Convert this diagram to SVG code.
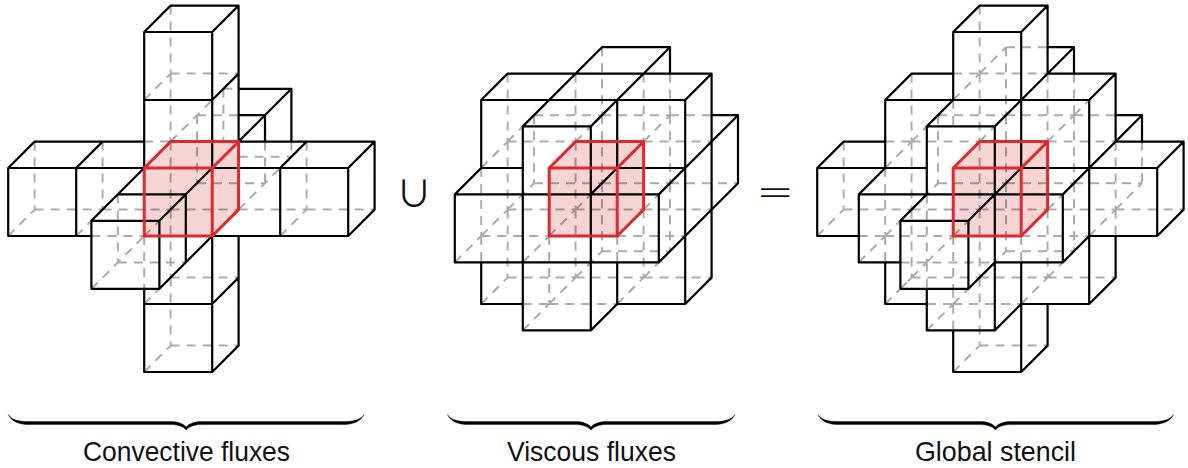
<svg xmlns="http://www.w3.org/2000/svg" width="1188" height="468" viewBox="0 0 1188 468">
<style>
.d{fill:none;stroke:#000;stroke-opacity:.33;stroke-width:2;stroke-dasharray:9 7}
.s{fill:none;stroke:#000;stroke-width:2.2;stroke-linecap:round;stroke-linejoin:round}
.rf{fill:#d62728;fill-opacity:.2;stroke:none}
.rs{fill:none;stroke:#dc2a2e;stroke-width:3;stroke-linejoin:round;stroke-linecap:round}
.b{fill:#000;stroke:#000;stroke-width:.4;stroke-linejoin:round}
.t{font-family:"Liberation Sans",Arial,sans-serif;font-size:27.5px;fill:#111;text-anchor:middle}
.o{fill:#111;text-anchor:middle}
</style>
<defs>
<path id="rfill" class="rf" d="M0-68L26.4-94.4H94.4V-26.4L68 0H0Z"/>
<path id="rline" class="rs" d="M0-68H68V0H0ZM0-68L26.4-94.4H94.4L68-68M94.4-94.4V-26.4L68 0"/>
</defs>
<g id="convective-stencil" transform="translate(144.2 236)">
<use href="#rfill"/>
<path class="d" d="M-109.6-26.4H-41.6M-41.6-26.4H26.4M26.4-26.4H94.4M94.4-26.4H162.4M162.4-26.4H230.4M26.4-162.4H94.4M26.4 41.6H94.4M26.4 109.6H94.4M0-94.4H26.4M-52.8 0H0M-26.4 26.4H41.6M52.8-120.8H94.4M79.2-147.2H94.4M52.8-52.8H120.8M94.4-79.2H147.2M26.4-230.4V-162.4M26.4-162.4V-94.4M26.4-94.4V-26.4M26.4-26.4V41.6M26.4 41.6V109.6M-109.6-94.4V-26.4M-41.6-94.4V-26.4M162.4-94.4V-26.4M-26.4-41.6V26.4M0 0V52.8M52.8-120.8V-52.8M120.8-94.4V-52.8M79.2-147.2V-94.4M147.2-94.4V-79.2M0-136L26.4-162.4M0 68L26.4 41.6M0 136L26.4 109.6M-136 0L-109.6-26.4M-68 0L-41.6-26.4M136 0L162.4-26.4M-52.8 52.8L0 0M0 0L26.4-26.4M26.4-94.4L79.2-147.2M94.4-26.4L147.2-79.2"/>
<path class="s" d="M0-204H68V-136H0ZM0-136V-68M68-136V-68M0-204L26.4-230.4H94.4L68-204M94.4-230.4V-94.4M68-136L94.4-162.4M-136-68H0M-136-68V0H-52.8M-68-68V0M-136-68L-109.6-94.4H0M-68-68L-41.6-94.4M68-68H204V0H68M136-68V0M136-68L162.4-94.4M204-68L230.4-94.4V-26.4L204 0M94.4-94.4H230.4M94.4-94.4L147.2-147.2H94.4M94.4-120.8H120.8V-94.4M147.2-147.2V-94.4M-52.8-15.2H15.2V52.8H-52.8ZM-52.8-15.2L0-68M15.2-15.2L68-68M15.2 52.8L68 0M-26.4-41.6H41.6V26.4M0 52.8V136H68V0M0 68H68M68 68L94.4 41.6M68 136L94.4 109.6V0"/>
<use href="#rline"/>
</g>
<g id="viscous-stencil" transform="translate(549.2 236)">
<use href="#rfill"/>
<path class="d" d="M-41.6-94.4H26.4M94.4-94.4H162.4M-15.2-120.8H52.8M52.8-120.8H120.8M120.8-120.8H162.4M-68 0H0M68 0H136M-41.6-26.4H26.4M26.4-26.4H94.4M94.4-26.4H162.4M-15.2-52.8H52.8M52.8-52.8H120.8M120.8-52.8H188.8M-26.4 68H0M0 68H68M-41.6 41.6H26.4M26.4 41.6H94.4M94.4 41.6H162.4M52.8 15.2H120.8M-68-68V0M-68 0V26.4M-41.6-162.4V-94.4M-41.6-94.4V-26.4M-41.6-26.4V41.6M-15.2-120.8V-52.8M0 0V68M26.4-162.4V-94.4M26.4-94.4V-26.4M26.4-26.4V41.6M52.8-188.8V-120.8M52.8-120.8V-52.8M52.8-52.8V15.2M68 0V26.4M94.4-162.4V-94.4M94.4-26.4V41.6M120.8-162.4V-120.8M120.8-120.8V-52.8M120.8-52.8V15.2M-68-68L-41.6-94.4M-41.6-94.4L-15.2-120.8M-94.4 26.4L-68 0M-68 0L-41.6-26.4M-41.6-26.4L-15.2-52.8M-68 68L-41.6 41.6M-26.4 26.4L0 0M0 0L26.4-26.4M26.4-26.4L52.8-52.8M26.4-94.4L52.8-120.8M-26.4 94.4L0 68M0 68L26.4 41.6M26.4 41.6L52.8 15.2M94.4-94.4L120.8-120.8M94.4-26.4L120.8-52.8M68 68L94.4 41.6M94.4 41.6L120.8 15.2"/>
<path class="s" d="M-68-136H136M-41.6-162.4H162.4M52.8-188.8H120.8M-26.4-109.6H41.6M-94.4-41.6H109.6M-68-68H-26.4M68-68H136M162.4-120.8H188.8M-94.4 26.4H109.6M-26.4 94.4H41.6M-68 68H-26.4M68 68H136M-94.4-41.6V26.4M-68-136V-68M-68 26.4V68M-26.4-109.6V94.4M41.6-109.6V94.4M68-136V-68M68 26.4V68M120.8-188.8V-162.4M109.6-41.6V26.4M136-136V68M162.4-162.4V41.6M188.8-120.8V-52.8M-94.4-41.6L-68-68M-68-136L-41.6-162.4M-26.4-109.6L52.8-188.8M41.6-109.6L120.8-188.8M41.6-41.6L68-68M41.6 94.4L68 68M136-136L162.4-162.4M109.6-41.6L188.8-120.8M109.6 26.4L188.8-52.8M136 68L162.4 41.6"/>
<use href="#rline"/>
</g>
<g id="global-stencil" transform="translate(953.2 236)">
<use href="#rfill"/>
<path class="d" d="M52.8-188.8H94.4M0-162.4H26.4M26.4-162.4H94.4M-15.2-120.8H52.8M52.8-120.8H120.8M120.8-120.8H162.4M-68-94.4H-41.6M-41.6-94.4H26.4M94.4-94.4H162.4M-15.2-52.8H52.8M52.8-52.8H120.8M120.8-52.8H188.8M-109.6-26.4H-41.6M-41.6-26.4H26.4M26.4-26.4H94.4M94.4-26.4H162.4M162.4-26.4H230.4M-94.4 0H-68M-68 0H0M68 0H136M-52.8 26.4H41.6M52.8 15.2H120.8M-41.6 41.6H26.4M26.4 41.6H94.4M94.4 41.6H162.4M-26.4 68H0M0 68H68M26.4 109.6H94.4M-109.6-94.4V-26.4M-68-68V0M-68 0V26.4M-41.6-162.4V-94.4M-41.6-94.4V-26.4M-41.6-26.4V41.6M-26.4-41.6V26.4M-26.4 26.4V52.8M-15.2-120.8V-52.8M0-136V-109.6M0 0V52.8M0 52.8V94.4M26.4-230.4V-162.4M26.4-162.4V-94.4M26.4-94.4V-26.4M26.4-26.4V41.6M26.4 41.6V109.6M52.8-188.8V-120.8M52.8-120.8V-52.8M52.8-52.8V15.2M68 0V26.4M94.4-162.4V-94.4M94.4-26.4V41.6M120.8-162.4V-120.8M120.8-120.8V-52.8M120.8-52.8V15.2M162.4-94.4V-26.4M162.4-26.4V0M188.8-94.4V-52.8M-136 0L-109.6-26.4M-68-68L-41.6-94.4M-41.6-94.4L-15.2-120.8M-94.4 26.4L-68 0M-68 0L-41.6-26.4M-41.6-26.4L-15.2-52.8M-68 68L-41.6 41.6M0-136L26.4-162.4M26.4-162.4L52.8-188.8M26.4-94.4L52.8-120.8M-52.8 52.8L-26.4 26.4M-26.4 26.4L0 0M0 0L26.4-26.4M26.4-26.4L52.8-52.8M-26.4 94.4L0 68M0 68L26.4 41.6M26.4 41.6L52.8 15.2M0 136L26.4 109.6M94.4-94.4L120.8-120.8M120.8-120.8L136-136M94.4-26.4L120.8-52.8M68 68L94.4 41.6M94.4 41.6L120.8 15.2M136 0L162.4-26.4M162.4-26.4L188.8-52.8"/>
<path class="s" d="M0-204H68M26.4-230.4H94.4M94.4-188.8H120.8M-41.6-162.4H0M94.4-162.4H162.4M-68-136H136M-26.4-109.6H41.6M162.4-120.8H188.8M-109.6-94.4H-68M162.4-94.4H230.4M-136-68H-26.4M68-68H204M-94.4-41.6H109.6M-52.8-15.2H15.2M-136 0H-94.4M136 0H204M-94.4 26.4H-52.8M41.6 26.4H109.6M-52.8 52.8H15.2M-68 68H-26.4M68 68H136M-26.4 94.4H41.6M0 136H68M-136-68V0M-94.4-41.6V26.4M-68-136V-68M-68 26.4V68M-52.8-15.2V52.8M-26.4-109.6V-41.6M-26.4 52.8V94.4M0-204V-136M0 94.4V136M15.2-15.2V52.8M41.6-109.6V94.4M68-204V-68M68 26.4V136M94.4-230.4V-162.4M94.4 68V109.6M120.8-188.8V-162.4M109.6-41.6V26.4M136-136V68M162.4-162.4V-94.4M162.4 0V41.6M188.8-120.8V-94.4M204-68V0M230.4-94.4V-26.4M-136-68L-109.6-94.4M-68-136L-41.6-162.4M-94.4-41.6L-68-68M0-204L26.4-230.4M-26.4-109.6L0-136M-52.8-15.2L-26.4-41.6M68-204L94.4-230.4M41.6-109.6L120.8-188.8M15.2-15.2L68-68M15.2 52.8L41.6 26.4M41.6 94.4L68 68M68 136L94.4 109.6M136-136L162.4-162.4M109.6-41.6L188.8-120.8M109.6 26.4L136 0M136 68L162.4 41.6M204-68L230.4-94.4M204 0L230.4-26.4"/>
<use href="#rline"/>
</g>
<text id="union" class="o" x="414" y="207" font-size="36" font-family="'Noto Sans CJK JP','DejaVu Sans',sans-serif">∪</text>
<text id="equals" class="o" x="775" y="206.5" font-size="45" font-weight="200" font-family="'DejaVu Sans',sans-serif">=</text>
<g id="label-convective">
<path class="b" d="M8.3 414.5C12 420 18 421.6 30 421.6H170C178 421.6 183 423.5 186.2 427C189.4 423.5 194 421.6 202 421.6H342C354 421.6 360 420 364 414.5C361 421 354 424.6 342 424.6H202C195 424.6 190 426 186.2 430C182.4 426 177 424.6 170 424.6H30C18 424.6 11 421 8.3 414.5Z"/>
<text class="t" x="186.5" y="461" textLength="207" lengthAdjust="spacingAndGlyphs">Convective fluxes</text>
</g>
<g id="label-viscous">
<path class="b" d="M447.5 414.5C451.2 420 457.2 421.6 469.2 421.6H575C583 421.6 588 423.5 591 427C594 423.5 599 421.6 607 421.6H713C725 421.6 731 420 735 414.5C732 421 725 424.6 713 424.6H607C600 424.6 595 426 591 430C587 426 582 424.6 575 424.6H469.2C457.2 424.6 450.2 421 447.5 414.5Z"/>
<text class="t" x="591.5" y="461" textLength="169" lengthAdjust="spacingAndGlyphs">Viscous fluxes</text>
</g>
<g id="label-global">
<path class="b" d="M818 414.5C821.7 420 827.7 421.6 839.7 421.6H979.5C987.5 421.6 992.5 423.5 995.5 427C998.5 423.5 1003.5 421.6 1011.5 421.6H1151.5C1163.5 421.6 1169.5 420 1173.5 414.5C1170.5 421 1163.5 424.6 1151.5 424.6H1011.5C1004.5 424.6 999.5 426 995.5 430C991.5 426 986.5 424.6 979.5 424.6H839.7C827.7 424.6 820.7 421 818 414.5Z"/>
<text class="t" x="995.5" y="461" textLength="161" lengthAdjust="spacingAndGlyphs">Global stencil</text>
</g>
</svg>
